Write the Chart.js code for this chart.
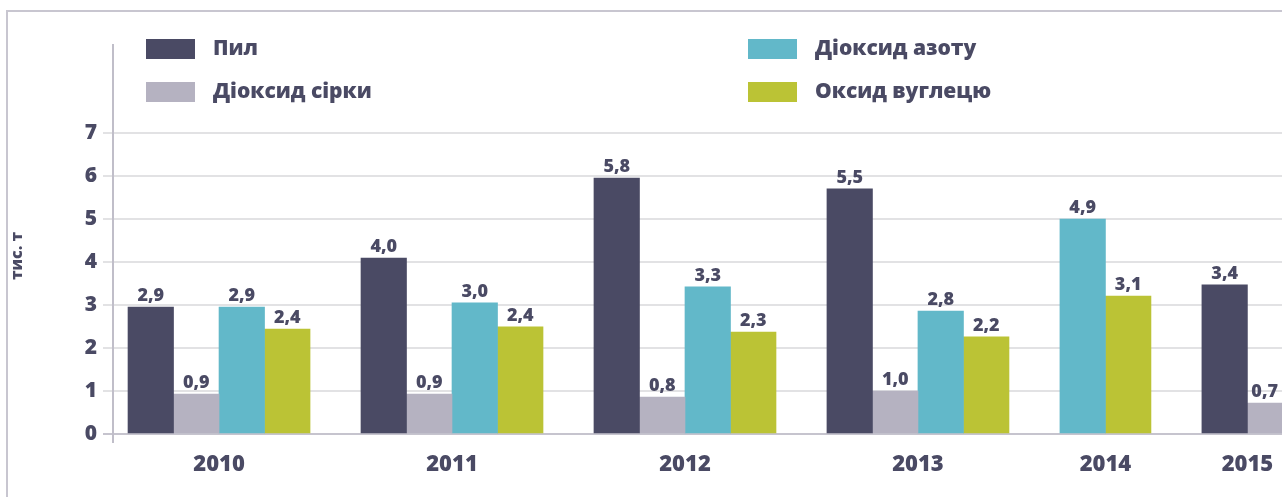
<!DOCTYPE html>
<html>
<head>
<meta charset="utf-8">
<script src="https://cdn.jsdelivr.net/npm/chart.js@4.4.1/dist/chart.umd.min.js"></script>
<style>
  html, body { margin: 0; padding: 0; background: #fff; overflow: hidden; }
  #wrap { width: 1282px; height: 497px; position: relative; }
</style>
</head>
<body>
<div id="wrap"><canvas id="myChartBar" width="1282" height="497"></canvas></div>
<script>
// dados (alturas das barras e rótulos impressos)
years = ['2010', '2011', '2012', '2013', '2014', '2015'];
seriesNames = ['Пил', 'Діоксид сірки', 'Діоксид азоту', 'Оксид вуглецю'];
seriesColors = ['#4a4a64', '#b5b2c1', '#62b8c9', '#bbc335'];

dust = [2.95, 4.09, 5.95, 5.70, null, 3.47];
sulfur = [0.93, 0.93, 0.86, 1.00, null, 0.72];
nitrogen = [2.95, 3.05, 3.42, 2.86, 5.00, null];
carbon = [2.44, 2.49, 2.37, 2.26, 3.21, null];

dustLabels = ['2,9', '4,0', '5,8', '5,5', null, '3,4'];
sulfurLabels = ['0,9', '0,9', '0,8', '1,0', null, '0,7'];
nitrogenLabels = ['2,9', '3,0', '3,3', '2,8', '4,9', null];
carbonLabels = ['2,4', '2,4', '2,3', '2,2', '3,1', null];

yTicks = [0, 1, 2, 3, 4, 5, 6, 7];
yTitle = 'тис. т';

TEXT = '#4a4a64';
FONT = "'Open Sans', sans-serif";
W = 800; // peso da fonte
GAP = 1.12; // espaço entre grupos, em larguras de barra

let series = [dust, sulfur, nitrogen, carbon];
let labels = [dustLabels, sulfurLabels, nitrogenLabels, carbonLabels];

// empacota as barras não nulas de cada ano lado a lado
let pos = 0;
let centers = [];
let points = series.map(() => []);
years.forEach((y, i) => {
    let start = pos;
    series.forEach((s, k) => {
        if (s[i] != null) {
            points[k].push({ x: pos + 0.5, y: s[i], label: labels[k][i] });
            pos += 1;
        }
    });
    centers.push((start + pos) / 2);
    pos += GAP;
});

let datasets = seriesNames.map((name, k) => ({
    label: name,
    data: points[k],
    backgroundColor: seriesColors[k],
    borderWidth: 0,
    grouped: false,
    barPercentage: 1,
    categoryPercentage: 1
}));

let decor = {
    id: 'decor',
    beforeDraw(chart) {
        let ctx = chart.ctx;
        ctx.save();
        // moldura
        ctx.strokeStyle = '#c8c6d0';
        ctx.lineWidth = 2;
        ctx.beginPath();
        ctx.moveTo(7, 500);
        ctx.lineTo(7, 11);
        ctx.lineTo(1290, 11);
        ctx.stroke();
        ctx.restore();
    },
    afterDraw(chart) {
        let ctx = chart.ctx;
        let area = chart.chartArea;
        ctx.save();
        // eixo vertical
        ctx.strokeStyle = '#c0bec9';
        ctx.lineWidth = 2;
        ctx.beginPath();
        ctx.moveTo(area.left, 44);
        ctx.lineTo(area.left, 443);
        ctx.stroke();

        // titulo do eixo y
        ctx.fillStyle = TEXT;
        ctx.font = W + ' 16px ' + FONT;
        ctx.textAlign = 'center';
        ctx.textBaseline = 'middle';
        ctx.translate(17, 256);
        ctx.rotate(-Math.PI / 2);
        ctx.fillText(yTitle, 0, 0);
        ctx.restore();

        // legenda 2x2
        ctx.save();
        let cols = [146, 748];
        let rows = [39, 82];
        chart.data.datasets.forEach((ds, k) => {
            let x = cols[Math.floor(k / 2)];
            let y = rows[k % 2];
            ctx.fillStyle = ds.backgroundColor;
            ctx.fillRect(x, y, 49, 20);
            ctx.fillStyle = TEXT;
            ctx.font = W + ' 21px ' + FONT;
            ctx.textAlign = 'left';
            ctx.textBaseline = 'middle';
            ctx.fillText(ds.label, x + 67, y + 10);
        });
        ctx.restore();
    },
    afterDatasetsDraw(chart) {
        let ctx = chart.ctx;
        ctx.save();
        ctx.fillStyle = TEXT;
        ctx.font = W + ' 18px ' + FONT;
        ctx.textAlign = 'center';
        ctx.textBaseline = 'alphabetic';
        chart.data.datasets.forEach((ds, k) => {
            let meta = chart.getDatasetMeta(k);
            meta.data.forEach((bar, i) => {
                let txt = ds.data[i].label;
                let half = ctx.measureText(txt).width / 2;
                // mantém o rótulo dentro do canvas
                let x = Math.min(bar.x, chart.width - half - 4);
                ctx.fillText(txt, x, bar.y - 6);
            });
        });
        ctx.restore();
    }
};

let canvas = document.getElementById('myChartBar');
myChartBar = new Chart(canvas, {
    type: 'bar',
    data: { datasets: datasets },
    plugins: [decor],
    options: {
        responsive: false,
        animation: false,
        layout: { padding: { top: 133, left: 0, right: 0, bottom: 0 } },
        plugins: {
            legend: { display: false },
            tooltip: { enabled: false }
        },
        scales: {
            x: {
                type: 'linear',
                offset: false,
                min: -0.33,
                max: 25.36,
                afterBuildTicks: (scale) => {
                    scale.ticks = centers.map(v => ({ value: v }));
                },
                afterFit: (scale) => {
                    scale.height = 63;
                    scale.paddingLeft = 0;
                    scale.paddingRight = 0;
                },
                grid: { display: false, drawTicks: false, offset: false },
                border: { display: true, color: '#c6c4ce', width: 2 },
                ticks: {
                    autoSkip: false,
                    maxRotation: 0,
                    padding: 18,
                    color: TEXT,
                    font: { family: FONT, size: 22, weight: W },
                    callback: (value, index) => years[index]
                }
            },
            y: {
                min: 0,
                max: 7,
                afterBuildTicks: (scale) => {
                    scale.ticks = yTicks.map(v => ({ value: v }));
                },
                afterFit: (scale) => { scale.width = 113; },
                grid: {
                    color: (c) => c.tick && c.tick.value === 0 ? '#c6c4ce' : '#e2e2e4',
                    lineWidth: 2,
                    tickLength: 10
                },
                border: { display: false },
                ticks: {
                    padding: 6,
                    color: TEXT,
                    font: { family: FONT, size: 21, weight: W }
                }
            }
        }
    }
});
</script>
</body>
</html>
